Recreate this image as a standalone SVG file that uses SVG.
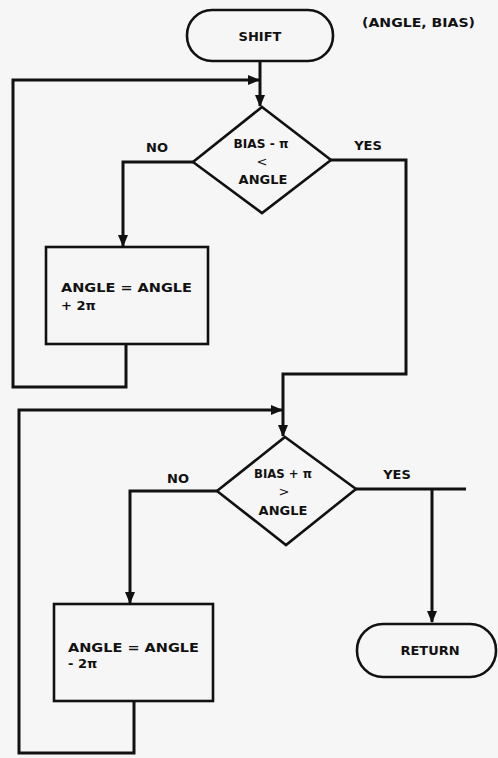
<svg xmlns="http://www.w3.org/2000/svg" width="498" height="758" viewBox="0 0 498 758">
<defs>
<style>
.shape{fill:none;stroke:#111;stroke-width:2.6}
.line{fill:none;stroke:#111;stroke-width:3;stroke-linejoin:miter}
text{font-family:"DejaVu Sans","Liberation Sans",sans-serif;font-weight:bold;font-size:13px;fill:#111}
.c{text-anchor:middle}
.rel{font-size:13px;font-weight:normal}
</style>
<marker id="arr" markerUnits="userSpaceOnUse" markerWidth="12" markerHeight="12" viewBox="0 0 12 12" refX="11" refY="6" orient="auto">
<path d="M0,1 L12,6 L0,11 Z" fill="#111"/>
</marker>
</defs>
<rect width="498" height="758" fill="#f6f6f6"/>
<g id="connectors">
<path class="line" d="M260,61 V106" marker-end="url(#arr)"/>
<path class="line" d="M126,344 V387 H13 V80 H259" marker-end="url(#arr)"/>
<path class="line" d="M193,162 H123 V246" marker-end="url(#arr)"/>
<path class="line" d="M331,160 H406 V374 H283 V436" marker-end="url(#arr)"/>
<path class="line" d="M134,701 V753 H19 V410 H282" marker-end="url(#arr)"/>
<path class="line" d="M217,491 H130 V603" marker-end="url(#arr)"/>
<path class="line" d="M356,489 H466"/>
<path class="line" d="M432,489 V622" marker-end="url(#arr)"/>
</g>
<g id="shift">
<rect class="shape" x="187" y="10" width="146" height="51" rx="25"/>
<text class="c" x="260" y="41" font-size="15">SHIFT</text>
</g>
<text x="362" y="27" textLength="113" lengthAdjust="spacingAndGlyphs">(ANGLE, BIAS)</text>
<g id="decision1">
<polygon class="shape" points="262,107 331,160 262,213 193,162"/>
<text class="c" x="261" y="148" textLength="55" lengthAdjust="spacingAndGlyphs">BIAS - π</text>
<text class="c rel" x="262" y="166">&lt;</text>
<text class="c" x="263" y="184" font-size="14">ANGLE</text>
<text class="c" x="157" y="152">NO</text>
<text class="c" x="368" y="150" font-size="14">YES</text>
</g>
<g id="box1">
<rect class="shape" x="46" y="247" width="162" height="97"/>
<text x="61" y="292" font-size="14" textLength="131" lengthAdjust="spacingAndGlyphs">ANGLE = ANGLE</text>
<text x="61" y="310" font-size="14">+ 2π</text>
</g>
<g id="decision2">
<polygon class="shape" points="285,437 356,489 286,545 217,491"/>
<text class="c" x="283" y="478" textLength="58" lengthAdjust="spacingAndGlyphs">BIAS + π</text>
<text class="c rel" x="284" y="496">&gt;</text>
<text class="c" x="283" y="515" font-size="14">ANGLE</text>
<text class="c" x="178" y="483">NO</text>
<text class="c" x="397" y="479" font-size="14">YES</text>
</g>
<g id="box2">
<rect class="shape" x="54" y="604" width="159" height="97"/>
<text x="68" y="652" font-size="14" textLength="131" lengthAdjust="spacingAndGlyphs">ANGLE = ANGLE</text>
<text x="68" y="668" font-size="14">- 2π</text>
</g>
<g id="return">
<rect class="shape" x="357" y="624" width="139" height="53" rx="26"/>
<text class="c" x="430" y="655" font-size="15">RETURN</text>
</g>
</svg>
